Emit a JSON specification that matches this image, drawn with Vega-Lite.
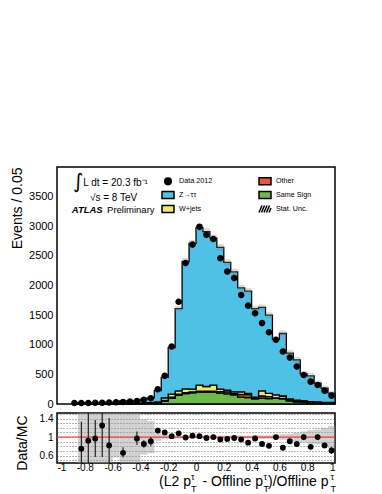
{
  "$schema": "https://vega.github.io/schema/vega-lite/v6.json",
  "autosize": {"type": "none"},
  "padding": {"left": 57, "top": 167, "right": 325, "bottom": 327},
  "background": "white",
  "spacing": 9,
  "bounds": "flush",
  "datasets": {
    "mc": [
      {"lo": -0.85, "hi": -0.8, "Same Sign": 3, "Other": 1, "W+jets": 3, "Z→ττ": 17},
      {"lo": -0.8, "hi": -0.75, "Same Sign": 3, "Other": 1, "W+jets": 3, "Z→ττ": 13},
      {"lo": -0.75, "hi": -0.7, "Same Sign": 3, "Other": 1, "W+jets": 3, "Z→ττ": 14},
      {"lo": -0.7, "hi": -0.65, "Same Sign": 3, "Other": 1, "W+jets": 2, "Z→ττ": 10},
      {"lo": -0.65, "hi": -0.6, "Same Sign": 4, "Other": 1, "W+jets": 4, "Z→ττ": 21},
      {"lo": -0.6, "hi": -0.55, "Same Sign": 3, "Other": 1, "W+jets": 3, "Z→ττ": 11},
      {"lo": -0.55, "hi": -0.5, "Same Sign": 5, "Other": 1, "W+jets": 5, "Z→ττ": 42},
      {"lo": -0.5, "hi": -0.45, "Same Sign": 4, "Other": 1, "W+jets": 3, "Z→ττ": 12},
      {"lo": -0.45, "hi": -0.4, "Same Sign": 6, "Other": 2, "W+jets": 6, "Z→ττ": 38},
      {"lo": -0.4, "hi": -0.35, "Same Sign": 8, "Other": 2, "W+jets": 8, "Z→ττ": 64},
      {"lo": -0.35, "hi": -0.3, "Same Sign": 10, "Other": 3, "W+jets": 10, "Z→ττ": 81},
      {"lo": -0.3, "hi": -0.25, "Same Sign": 15, "Other": 5, "W+jets": 15, "Z→ττ": 190},
      {"lo": -0.25, "hi": -0.2, "Same Sign": 50, "Other": 10, "W+jets": 45, "Z→ττ": 345},
      {"lo": -0.2, "hi": -0.15, "Same Sign": 100, "Other": 15, "W+jets": 50, "Z→ττ": 785},
      {"lo": -0.15, "hi": -0.1, "Same Sign": 150, "Other": 15, "W+jets": 55, "Z→ττ": 1390},
      {"lo": -0.1, "hi": -0.05, "Same Sign": 175, "Other": 15, "W+jets": 65, "Z→ττ": 2150},
      {"lo": -0.05, "hi": 0, "Same Sign": 190, "Other": 15, "W+jets": 45, "Z→ττ": 2460},
      {"lo": 0, "hi": 0.05, "Same Sign": 200, "Other": 15, "W+jets": 105, "Z→ττ": 2655},
      {"lo": 0.05, "hi": 0.1, "Same Sign": 200, "Other": 15, "W+jets": 80, "Z→ττ": 2615},
      {"lo": 0.1, "hi": 0.15, "Same Sign": 200, "Other": 15, "W+jets": 105, "Z→ττ": 2480},
      {"lo": 0.15, "hi": 0.2, "Same Sign": 185, "Other": 25, "W+jets": 40, "Z→ττ": 2395},
      {"lo": 0.2, "hi": 0.25, "Same Sign": 170, "Other": 35, "W+jets": 30, "Z→ττ": 2155},
      {"lo": 0.25, "hi": 0.3, "Same Sign": 155, "Other": 20, "W+jets": 30, "Z→ττ": 2025},
      {"lo": 0.3, "hi": 0.35, "Same Sign": 115, "Other": 45, "W+jets": 45, "Z→ττ": 1755},
      {"lo": 0.35, "hi": 0.4, "Same Sign": 110, "Other": 50, "W+jets": 20, "Z→ττ": 1725},
      {"lo": 0.4, "hi": 0.45, "Same Sign": 85, "Other": 15, "W+jets": 15, "Z→ττ": 1495},
      {"lo": 0.45, "hi": 0.5, "Same Sign": 100, "Other": 35, "W+jets": 85, "Z→ττ": 1410},
      {"lo": 0.5, "hi": 0.55, "Same Sign": 90, "Other": 35, "W+jets": 55, "Z→ττ": 1320},
      {"lo": 0.55, "hi": 0.6, "Same Sign": 95, "Other": 10, "W+jets": 50, "Z→ττ": 935},
      {"lo": 0.6, "hi": 0.65, "Same Sign": 85, "Other": 10, "W+jets": 40, "Z→ττ": 1055},
      {"lo": 0.65, "hi": 0.7, "Same Sign": 55, "Other": 10, "W+jets": 20, "Z→ττ": 775},
      {"lo": 0.7, "hi": 0.75, "Same Sign": 35, "Other": 10, "W+jets": 20, "Z→ττ": 680},
      {"lo": 0.75, "hi": 0.8, "Same Sign": 30, "Other": 10, "W+jets": 15, "Z→ττ": 455},
      {"lo": 0.8, "hi": 0.85, "Same Sign": 25, "Other": 5, "W+jets": 10, "Z→ττ": 435},
      {"lo": 0.85, "hi": 0.9, "Same Sign": 20, "Other": 5, "W+jets": 10, "Z→ττ": 315},
      {"lo": 0.9, "hi": 0.95, "Same Sign": 15, "Other": 5, "W+jets": 5, "Z→ττ": 243},
      {"lo": 0.95, "hi": 1, "Same Sign": 15, "Other": 5, "W+jets": 5, "Z→ττ": 160}
    ],
    "bins": [
      {"lo": -0.85, "hi": -0.8, "mlo": 6, "mhi": 42, "rlo": 0, "rhi": 2},
      {"lo": -0.8, "hi": -0.75, "mlo": 4, "mhi": 36, "rlo": 0, "rhi": 2},
      {"lo": -0.75, "hi": -0.7, "mlo": 5, "mhi": 37, "rlo": 0, "rhi": 2},
      {"lo": -0.7, "hi": -0.65, "mlo": 2, "mhi": 30, "rlo": 0, "rhi": 2},
      {"lo": -0.65, "hi": -0.6, "mlo": 12, "mhi": 48, "rlo": 0, "rhi": 2},
      {"lo": -0.6, "hi": -0.55, "mlo": 6, "mhi": 30, "rlo": 0.56, "rhi": 2},
      {"lo": -0.55, "hi": -0.5, "mlo": 31, "mhi": 75, "rlo": 0, "rhi": 2},
      {"lo": -0.5, "hi": -0.45, "mlo": 6, "mhi": 34, "rlo": 0, "rhi": 2},
      {"lo": -0.45, "hi": -0.4, "mlo": 30, "mhi": 74, "rlo": 0, "rhi": 2},
      {"lo": -0.4, "hi": -0.35, "mlo": 57, "mhi": 107, "rlo": 0.62, "rhi": 1.38},
      {"lo": -0.35, "hi": -0.3, "mlo": 76, "mhi": 132, "rlo": 0.65, "rhi": 1.35},
      {"lo": -0.3, "hi": -0.25, "mlo": 205, "mhi": 245, "rlo": 0.92, "rhi": 1.08},
      {"lo": -0.25, "hi": -0.2, "mlo": 425, "mhi": 475, "rlo": 0.95, "rhi": 1.05},
      {"lo": -0.2, "hi": -0.15, "mlo": 915, "mhi": 985, "rlo": 0.96, "rhi": 1.04},
      {"lo": -0.15, "hi": -0.1, "mlo": 1565, "mhi": 1655, "rlo": 0.97, "rhi": 1.03},
      {"lo": -0.1, "hi": -0.05, "mlo": 2350, "mhi": 2460, "rlo": 0.97, "rhi": 1.03},
      {"lo": -0.05, "hi": 0, "mlo": 2650, "mhi": 2770, "rlo": 0.97, "rhi": 1.03},
      {"lo": 0, "hi": 0.05, "mlo": 2915, "mhi": 3035, "rlo": 0.97, "rhi": 1.03},
      {"lo": 0.05, "hi": 0.1, "mlo": 2850, "mhi": 2970, "rlo": 0.97, "rhi": 1.03},
      {"lo": 0.1, "hi": 0.15, "mlo": 2740, "mhi": 2860, "rlo": 0.97, "rhi": 1.03},
      {"lo": 0.15, "hi": 0.2, "mlo": 2587, "mhi": 2703, "rlo": 0.97, "rhi": 1.03},
      {"lo": 0.2, "hi": 0.25, "mlo": 2335, "mhi": 2445, "rlo": 0.97, "rhi": 1.03},
      {"lo": 0.25, "hi": 0.3, "mlo": 2175, "mhi": 2285, "rlo": 0.97, "rhi": 1.03},
      {"lo": 0.3, "hi": 0.35, "mlo": 1908, "mhi": 2012, "rlo": 0.97, "rhi": 1.03},
      {"lo": 0.35, "hi": 0.4, "mlo": 1853, "mhi": 1957, "rlo": 0.97, "rhi": 1.03},
      {"lo": 0.4, "hi": 0.45, "mlo": 1560, "mhi": 1660, "rlo": 0.96, "rhi": 1.04},
      {"lo": 0.45, "hi": 0.5, "mlo": 1580, "mhi": 1680, "rlo": 0.96, "rhi": 1.04},
      {"lo": 0.5, "hi": 0.55, "mlo": 1450, "mhi": 1550, "rlo": 0.96, "rhi": 1.04},
      {"lo": 0.55, "hi": 0.6, "mlo": 1040, "mhi": 1140, "rlo": 0.95, "rhi": 1.05},
      {"lo": 0.6, "hi": 0.65, "mlo": 1138, "mhi": 1242, "rlo": 0.94, "rhi": 1.06},
      {"lo": 0.65, "hi": 0.7, "mlo": 810, "mhi": 910, "rlo": 0.93, "rhi": 1.07},
      {"lo": 0.7, "hi": 0.75, "mlo": 695, "mhi": 795, "rlo": 0.9, "rhi": 1.1},
      {"lo": 0.75, "hi": 0.8, "mlo": 462, "mhi": 558, "rlo": 0.88, "rhi": 1.12},
      {"lo": 0.8, "hi": 0.85, "mlo": 427, "mhi": 523, "rlo": 0.85, "rhi": 1.15},
      {"lo": 0.85, "hi": 0.9, "mlo": 305, "mhi": 395, "rlo": 0.84, "rhi": 1.16},
      {"lo": 0.9, "hi": 0.95, "mlo": 226, "mhi": 310, "rlo": 0.8, "rhi": 1.2},
      {"lo": 0.95, "hi": 1, "mlo": 147, "mhi": 223, "rlo": 0.76, "rhi": 1.24}
    ],
    "data": [
      {"x": -0.875, "n": 18}, {"x": -0.825, "n": 18}, {"x": -0.775, "n": 18}, {"x": -0.725, "n": 20},
      {"x": -0.675, "n": 20}, {"x": -0.625, "n": 25}, {"x": -0.575, "n": 30}, {"x": -0.525, "n": 35},
      {"x": -0.475, "n": 40}, {"x": -0.425, "n": 50}, {"x": -0.375, "n": 70}, {"x": -0.325, "n": 95},
      {"x": -0.275, "n": 250}, {"x": -0.225, "n": 475}, {"x": -0.175, "n": 970}, {"x": -0.125, "n": 1725},
      {"x": -0.075, "n": 2380}, {"x": -0.025, "n": 2690}, {"x": 0.025, "n": 2990}, {"x": 0.075, "n": 2855},
      {"x": 0.125, "n": 2785}, {"x": 0.175, "n": 2460}, {"x": 0.225, "n": 2235}, {"x": 0.275, "n": 2125},
      {"x": 0.325, "n": 1840}, {"x": 0.375, "n": 1660}, {"x": 0.425, "n": 1532}, {"x": 0.475, "n": 1365},
      {"x": 0.525, "n": 1211}, {"x": 0.575, "n": 1085}, {"x": 0.625, "n": 885}, {"x": 0.675, "n": 783},
      {"x": 0.725, "n": 631}, {"x": 0.775, "n": 490}, {"x": 0.825, "n": 377}, {"x": 0.875, "n": 321},
      {"x": 0.925, "n": 225}, {"x": 0.975, "n": 141}
    ],
    "ratio": [
      {"x": -0.825, "r": 0.75, "elo": 0.17, "ehi": 1.33},
      {"x": -0.775, "r": 0.92, "elo": 0.2, "ehi": 1.65},
      {"x": -0.725, "r": 0.97, "elo": 0.57, "ehi": 1.37},
      {"x": -0.675, "r": 1.25, "elo": 0.57, "ehi": 1.9},
      {"x": -0.625, "r": 0.82, "elo": 0.3, "ehi": 1.41},
      {"x": -0.525, "r": 0.66, "elo": 0.56, "ehi": 0.78},
      {"x": -0.425, "r": 0.97, "elo": 0.83, "ehi": 1.12},
      {"x": -0.375, "r": 0.85, "elo": 0.77, "ehi": 0.93},
      {"x": -0.325, "r": 0.91, "elo": 0.81, "ehi": 1.0},
      {"x": -0.275, "r": 1.14, "elo": 1.08, "ehi": 1.2},
      {"x": -0.225, "r": 1.10, "elo": 1.06, "ehi": 1.14},
      {"x": -0.175, "r": 1.02, "elo": 0.99, "ehi": 1.05},
      {"x": -0.125, "r": 1.08, "elo": 1.05, "ehi": 1.11},
      {"x": -0.075, "r": 0.99, "elo": 0.97, "ehi": 1.01},
      {"x": -0.025, "r": 1.03, "elo": 1.01, "ehi": 1.05},
      {"x": 0.025, "r": 1.02, "elo": 1.0, "ehi": 1.04},
      {"x": 0.075, "r": 0.98, "elo": 0.96, "ehi": 1.0},
      {"x": 0.125, "r": 1.0, "elo": 0.98, "ehi": 1.02},
      {"x": 0.175, "r": 0.95, "elo": 0.93, "ehi": 0.97},
      {"x": 0.225, "r": 0.96, "elo": 0.94, "ehi": 0.98},
      {"x": 0.275, "r": 0.98, "elo": 0.96, "ehi": 1.0},
      {"x": 0.325, "r": 0.95, "elo": 0.93, "ehi": 0.97},
      {"x": 0.375, "r": 0.88, "elo": 0.86, "ehi": 0.9},
      {"x": 0.425, "r": 0.97, "elo": 0.95, "ehi": 0.99},
      {"x": 0.475, "r": 0.85, "elo": 0.82, "ehi": 0.88},
      {"x": 0.525, "r": 0.81, "elo": 0.78, "ehi": 0.84},
      {"x": 0.575, "r": 1.0, "elo": 0.97, "ehi": 1.03},
      {"x": 0.625, "r": 0.77, "elo": 0.74, "ehi": 0.8},
      {"x": 0.675, "r": 0.91, "elo": 0.88, "ehi": 0.94},
      {"x": 0.725, "r": 0.85, "elo": 0.81, "ehi": 0.89},
      {"x": 0.775, "r": 1.0, "elo": 0.95, "ehi": 1.05},
      {"x": 0.825, "r": 0.79, "elo": 0.74, "ehi": 0.84},
      {"x": 0.875, "r": 1.0, "elo": 0.94, "ehi": 1.06},
      {"x": 0.925, "r": 0.82, "elo": 0.76, "ehi": 0.88},
      {"x": 0.975, "r": 0.71, "elo": 0.64, "ehi": 0.78}
    ]
  },
  "vconcat": [
    {
      "width": 278,
      "height": 237,
      "resolve": {"axis": {"x": "independent", "y": "independent"}},
      "layer": [
        {
          "data": {"name": "mc"},
          "transform": [
            {"fold": ["Same Sign", "Other", "W+jets", "Z→ττ"], "as": ["p", "n"]},
            {"stack": "n", "groupby": ["lo"], "as": ["y0", "y1"]},
            {"fold": ["lo", "hi"], "as": ["edge", "xv"]}
          ],
          "mark": {"type": "area", "stroke": "black", "strokeWidth": 1.3, "interpolate": "linear", "opacity": 1},
          "encoding": {
            "x": {"field": "xv", "type": "quantitative", "scale": {"domain": [-1, 1], "nice": false},
              "axis": {"orient": "bottom", "labels": false, "title": null, "tickSize": 0,
                "values": [-1,-0.95,-0.9,-0.85,-0.8,-0.75,-0.7,-0.65,-0.6,-0.55,-0.5,-0.45,-0.4,-0.35,-0.3,-0.25,-0.2,-0.15,-0.1,-0.05,0,0.05,0.1,0.15,0.2,0.25,0.3,0.35,0.4,0.45,0.5,0.55,0.6,0.65,0.7,0.75,0.8,0.85,0.9,0.95,1],
                "encode": {"ticks": {"update": {"y2": {"signal": "abs(datum.value*5-round(datum.value*5))<0.01 ? -8 : -4"}}}}}},
            "y": {"field": "y1", "type": "quantitative", "stack": null, "scale": {"domain": [0, 4000], "nice": false},
              "axis": {"orient": "left", "tickSize": 0, "labelPadding": 4, "labelFontSize": 11, "format": "d",
                "values": [0,100,200,300,400,500,600,700,800,900,1000,1100,1200,1300,1400,1500,1600,1700,1800,1900,2000,2100,2200,2300,2400,2500,2600,2700,2800,2900,3000,3100,3200,3300,3400,3500,3600,3700,3800,3900],
                "labelExpr": "datum.value % 500 === 0 ? datum.label : ''",
                "title": "Events / 0.05", "titleFontSize": 14, "titleFontWeight": "normal",
                "titleX": -36, "titleY": 0, "titleAlign": "right", "titleAngle": -90, "titleBaseline": "alphabetic",
                "encode": {"ticks": {"update": {"x2": {"signal": "datum.value % 500 === 0 ? 8 : 4"}}}}}},
            "y2": {"field": "y0"},
            "color": {"field": "p", "type": "nominal",
              "scale": {"domain": ["Data 2012", "Z→ττ", "W+jets", "Other", "Same Sign", "Stat. Unc."],
                "range": ["#000000", "#4fc0e6", "#eee86e", "#e55838", "#6dba4a", "#888888"]},
              "legend": {"orient": "none", "legendX": 105, "legendY": 8, "columns": 2, "title": null,
                "symbolSize": 100, "labelFontSize": 7.2, "labelFont": "Liberation Sans", "labelColor": "black",
                "labelOffset": 5, "rowPadding": 0, "columnPadding": 43, "padding": 0,
                "encode": {"symbols": {"update": {
                  "stroke": {"signal": "datum.value === 'Stat. Unc.' ? '#8a8a8a' : 'black'"},
                  "strokeWidth": {"signal": "datum.value === 'Stat. Unc.' ? 0.7 : 1.2"},
                  "fillOpacity": {"signal": "datum.value === 'Stat. Unc.' ? 0 : 1"},
                  "opacity": {"value": 1}}}}}},
            "order": [{"field": "xv", "type": "quantitative"}, {"field": "lo", "type": "quantitative"}]
          }
        },
        {
          "data": {"name": "bins"},
          "mark": {"type": "rect", "opacity": 0.3},
          "encoding": {
            "x": {"field": "lo", "type": "quantitative", "scale": {"domain": [-1, 1], "nice": false},
              "axis": {"orient": "top", "labels": false, "title": null, "tickSize": 0,
                "values": [-1,-0.95,-0.9,-0.85,-0.8,-0.75,-0.7,-0.65,-0.6,-0.55,-0.5,-0.45,-0.4,-0.35,-0.3,-0.25,-0.2,-0.15,-0.1,-0.05,0,0.05,0.1,0.15,0.2,0.25,0.3,0.35,0.4,0.45,0.5,0.55,0.6,0.65,0.7,0.75,0.8,0.85,0.9,0.95,1],
                "encode": {"ticks": {"update": {"y2": {"signal": "abs(datum.value*5-round(datum.value*5))<0.01 ? 8 : 4"}}}}}},
            "x2": {"field": "hi"},
            "y": {"field": "mlo", "type": "quantitative", "scale": {"domain": [0, 4000], "nice": false},
              "axis": {"orient": "right", "labels": false, "title": null, "tickSize": 0,
                "values": [0,100,200,300,400,500,600,700,800,900,1000,1100,1200,1300,1400,1500,1600,1700,1800,1900,2000,2100,2200,2300,2400,2500,2600,2700,2800,2900,3000,3100,3200,3300,3400,3500,3600,3700,3800,3900],
                "encode": {"ticks": {"update": {"x2": {"signal": "datum.value % 500 === 0 ? -8 : -4"}}}}}},
            "y2": {"field": "mhi"},
            "color": {"datum": "Stat. Unc.", "type": "nominal",
              "scale": {"domain": ["Data 2012", "Z→ττ", "W+jets", "Other", "Same Sign", "Stat. Unc."],
                "range": ["#000000", "#4fc0e6", "#eee86e", "#e55838", "#6dba4a", "#888888"]}}
          }
        },
        {
          "data": {"name": "data"},
          "mark": {"type": "point", "filled": true, "size": 100, "opacity": 1},
          "encoding": {
            "x": {"field": "x", "type": "quantitative", "axis": null},
            "y": {"field": "n", "type": "quantitative", "axis": null},
            "color": {"datum": "Data 2012", "type": "nominal",
              "scale": {"domain": ["Data 2012", "Z→ττ", "W+jets", "Other", "Same Sign", "Stat. Unc."],
                "range": ["#000000", "#4fc0e6", "#eee86e", "#e55838", "#6dba4a", "#888888"]}},
            "shape": {"datum": "Data 2012", "type": "nominal",
              "scale": {"domain": ["Data 2012", "Z→ττ", "W+jets", "Other", "Same Sign", "Stat. Unc."],
                "range": ["M-0.66,0A0.66,0.66,0,1,1,0.66,0A0.66,0.66,0,1,1,-0.66,0Z",
                  "M-1.2,-0.7H1.2V0.7H-1.2Z", "M-1.2,-0.7H1.2V0.7H-1.2Z", "M-1.2,-0.7H1.2V0.7H-1.2Z", "M-1.2,-0.7H1.2V0.7H-1.2Z",
                  "M-1.2,0.7L-0.6,-0.7M-0.7,0.7L-0.1,-0.7M-0.2,0.7L0.4,-0.7M0.3,0.7L0.9,-0.7M0.8,0.7L1.2,-0.2"]},
              "legend": {"orient": "none", "legendX": 105, "legendY": 8, "columns": 2, "title": null,
                "symbolSize": 100, "labelFontSize": 7.2, "labelFont": "Liberation Sans", "labelColor": "black",
                "labelOffset": 5, "rowPadding": 0, "columnPadding": 43, "padding": 0}}
          }
        },
        {
          "data": {"values": [{}]},
          "mark": {"type": "text", "font": "DejaVu Sans", "fontSize": 20, "align": "center", "baseline": "middle"},
          "encoding": {"x": {"datum": -0.847, "type": "quantitative", "axis": null}, "y": {"datum": 3747, "type": "quantitative", "axis": null}, "text": {"value": "∫"}}
        },
        {
          "data": {"values": [{}]},
          "mark": {"type": "text", "font": "Liberation Sans", "fontSize": 10, "align": "left", "baseline": "alphabetic"},
          "encoding": {"x": {"datum": -0.811, "type": "quantitative", "axis": null}, "y": {"datum": 3680, "type": "quantitative", "axis": null}, "text": {"value": "L dt = 20.3 fb⁻¹"}}
        },
        {
          "data": {"values": [{}]},
          "mark": {"type": "text", "font": "Liberation Sans", "fontSize": 10, "align": "left", "baseline": "alphabetic"},
          "encoding": {"x": {"datum": -0.763, "type": "quantitative", "axis": null}, "y": {"datum": 3427, "type": "quantitative", "axis": null}, "text": {"value": "√s = 8 TeV"}}
        },
        {
          "data": {"values": [{}]},
          "mark": {"type": "text", "font": "Liberation Sans", "fontSize": 9.5, "fontWeight": "bold", "fontStyle": "italic", "align": "left", "baseline": "alphabetic"},
          "encoding": {"x": {"datum": -0.894, "type": "quantitative", "axis": null}, "y": {"datum": 3224, "type": "quantitative", "axis": null}, "text": {"value": "ATLAS"}}
        },
        {
          "data": {"values": [{}]},
          "mark": {"type": "text", "font": "Liberation Sans", "fontSize": 9.5, "align": "left", "baseline": "alphabetic"},
          "encoding": {"x": {"datum": -0.64, "type": "quantitative", "axis": null}, "y": {"datum": 3224, "type": "quantitative", "axis": null}, "text": {"value": "Preliminary"}}
        }
      ]
    },
    {
      "width": 278,
      "height": 50,
      "resolve": {"axis": {"x": "independent", "y": "independent"}},
      "layer": [
        {
          "data": {"name": "bins"},
          "mark": {"type": "rect", "fill": "#999999", "opacity": 0.45, "clip": true},
          "encoding": {
            "x": {"field": "lo", "type": "quantitative", "scale": {"domain": [-1, 1], "nice": false},
              "axis": {"orient": "bottom", "title": null, "tickSize": 0, "labelPadding": -1, "labelFontSize": 10,
                "values": [-1,-0.95,-0.9,-0.85,-0.8,-0.75,-0.7,-0.65,-0.6,-0.55,-0.5,-0.45,-0.4,-0.35,-0.3,-0.25,-0.2,-0.15,-0.1,-0.05,0,0.05,0.1,0.15,0.2,0.25,0.3,0.35,0.4,0.45,0.5,0.55,0.6,0.65,0.7,0.75,0.8,0.85,0.9,0.95,1],
                "labelExpr": "abs(datum.value*5-round(datum.value*5))<0.01 ? replace(format(datum.value, '~g'), '−', '-') : ''",
                "encode": {"ticks": {"update": {"y2": {"signal": "abs(datum.value*5-round(datum.value*5))<0.01 ? -6 : -3"}}}}}},
            "x2": {"field": "hi"},
            "y": {"field": "rlo", "type": "quantitative", "scale": {"domain": [0.44, 1.52], "nice": false, "zero": false},
              "axis": {"orient": "left", "tickSize": 0, "labelPadding": 4, "labelFontSize": 10,
                "values": [0.5,0.6,0.7,0.8,0.9,1,1.1,1.2,1.3,1.4,1.5],
                "labelExpr": "abs(datum.value*5-round(datum.value*5))<0.01 ? format(datum.value, '~g') : ''",
                "grid": true, "gridColor": "#444444", "gridDash": [1, 2], "gridWidth": 0.8,
                "title": "Data/MC", "titleFontSize": 14, "titleFontWeight": "normal",
                "titleX": -31, "titleY": 2, "titleAlign": "right", "titleAngle": -90, "titleBaseline": "alphabetic",
                "encode": {
                  "ticks": {"update": {"x2": {"signal": "abs(datum.value*5-round(datum.value*5))<0.01 ? 8 : 4"}}},
                  "grid": {"update": {"strokeOpacity": {"signal": "abs(datum.value*5-round(datum.value*5))<0.01 ? 1 : 0"}}}}}},
            "y2": {"field": "rhi"}
          }
        },
        {
          "data": {"values": [{}]},
          "mark": {"type": "rule", "color": "#ff2020", "strokeWidth": 1},
          "encoding": {"y": {"datum": 1, "type": "quantitative", "axis": null}}
        },
        {
          "data": {"name": "ratio"},
          "mark": {"type": "rule", "color": "black", "strokeWidth": 1, "clip": true},
          "encoding": {
            "x": {"field": "x", "type": "quantitative", "axis": null},
            "y": {"field": "elo", "type": "quantitative", "axis": null},
            "y2": {"field": "ehi"}
          }
        },
        {
          "data": {"name": "ratio"},
          "mark": {"type": "point", "filled": true, "size": 34, "color": "black", "opacity": 1, "clip": true},
          "encoding": {
            "x": {"field": "x", "type": "quantitative", "scale": {"domain": [-1, 1], "nice": false},
              "axis": {"orient": "top", "labels": false, "title": null, "tickSize": 0,
                "values": [-1,-0.95,-0.9,-0.85,-0.8,-0.75,-0.7,-0.65,-0.6,-0.55,-0.5,-0.45,-0.4,-0.35,-0.3,-0.25,-0.2,-0.15,-0.1,-0.05,0,0.05,0.1,0.15,0.2,0.25,0.3,0.35,0.4,0.45,0.5,0.55,0.6,0.65,0.7,0.75,0.8,0.85,0.9,0.95,1],
                "encode": {"ticks": {"update": {"y2": {"signal": "abs(datum.value*5-round(datum.value*5))<0.01 ? 6 : 3"}}}}}},
            "y": {"field": "r", "type": "quantitative", "scale": {"domain": [0.44, 1.52], "nice": false, "zero": false},
              "axis": {"orient": "right", "labels": false, "title": null, "tickSize": 0,
                "values": [0.5,0.6,0.7,0.8,0.9,1,1.1,1.2,1.3,1.4,1.5],
                "encode": {"ticks": {"update": {"x2": {"signal": "abs(datum.value*5-round(datum.value*5))<0.01 ? -8 : -4"}}}}}}
          }
        },
        {
          "data": {"values": [{}]},
          "mark": {"type": "text", "font": "Liberation Sans", "fontSize": 14, "align": "left", "baseline": "alphabetic"},
          "encoding": {"x": {"datum": -0.266, "type": "quantitative", "axis": null}, "y": {"datum": -0.057, "type": "quantitative", "axis": null}, "text": {"value": "(L2 p"}}
        },
        {
          "data": {"values": [{}]},
          "mark": {"type": "text", "font": "Liberation Sans", "fontSize": 14, "align": "left", "baseline": "alphabetic"},
          "encoding": {"x": {"datum": 0.047, "type": "quantitative", "axis": null}, "y": {"datum": -0.057, "type": "quantitative", "axis": null}, "text": {"value": "- Offline p"}}
        },
        {
          "data": {"values": [{}]},
          "mark": {"type": "text", "font": "Liberation Sans", "fontSize": 14, "align": "left", "baseline": "alphabetic"},
          "encoding": {"x": {"datum": 0.518, "type": "quantitative", "axis": null}, "y": {"datum": -0.057, "type": "quantitative", "axis": null}, "text": {"value": ")/Offline p"}}
        },
        {
          "data": {"values": [{}]},
          "mark": {"type": "text", "font": "Liberation Sans", "fontSize": 9, "align": "left", "baseline": "alphabetic"},
          "encoding": {"x": {"datum": -0.036, "type": "quantitative", "axis": null}, "y": {"datum": 0.063, "type": "quantitative", "axis": null}, "text": {"value": "τ"}}
        },
        {
          "data": {"values": [{}]},
          "mark": {"type": "text", "font": "Liberation Sans", "fontSize": 9, "align": "left", "baseline": "alphabetic"},
          "encoding": {"x": {"datum": -0.036, "type": "quantitative", "axis": null}, "y": {"datum": -0.197, "type": "quantitative", "axis": null}, "text": {"value": "T"}}
        },
        {
          "data": {"values": [{}]},
          "mark": {"type": "text", "font": "Liberation Sans", "fontSize": 9, "align": "left", "baseline": "alphabetic"},
          "encoding": {"x": {"datum": 0.4856, "type": "quantitative", "axis": null}, "y": {"datum": 0.063, "type": "quantitative", "axis": null}, "text": {"value": "τ"}}
        },
        {
          "data": {"values": [{}]},
          "mark": {"type": "text", "font": "Liberation Sans", "fontSize": 9, "align": "left", "baseline": "alphabetic"},
          "encoding": {"x": {"datum": 0.4856, "type": "quantitative", "axis": null}, "y": {"datum": -0.197, "type": "quantitative", "axis": null}, "text": {"value": "T"}}
        },
        {
          "data": {"values": [{}]},
          "mark": {"type": "text", "font": "Liberation Sans", "fontSize": 9, "align": "left", "baseline": "alphabetic"},
          "encoding": {"x": {"datum": 0.968, "type": "quantitative", "axis": null}, "y": {"datum": 0.063, "type": "quantitative", "axis": null}, "text": {"value": "τ"}}
        },
        {
          "data": {"values": [{}]},
          "mark": {"type": "text", "font": "Liberation Sans", "fontSize": 9, "align": "left", "baseline": "alphabetic"},
          "encoding": {"x": {"datum": 0.968, "type": "quantitative", "axis": null}, "y": {"datum": -0.197, "type": "quantitative", "axis": null}, "text": {"value": "T"}}
        }
      ]
    }
  ],
  "config": {
    "view": {"stroke": "black", "strokeWidth": 1.5},
    "axis": {"labelFont": "Liberation Sans", "titleFont": "Liberation Sans", "labelColor": "black", "titleColor": "black",
      "tickColor": "black", "tickWidth": 1, "domain": false, "grid": false},
    "text": {"font": "Liberation Sans", "color": "black"}
  }
}
